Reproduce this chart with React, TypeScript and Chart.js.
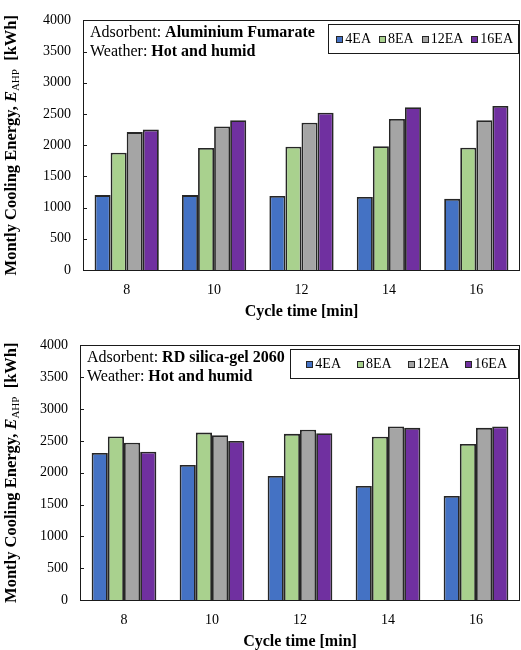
import React, { useEffect, useRef } from "react";
import { Chart, registerables } from "chart.js";

Chart.register(...registerables);

// ---------- data ----------
const categories = ["8", "10", "12", "14", "16"];
const seriesNames = ["4EA", "8EA", "12EA", "16EA"];
const yTickValues = [0, 500, 1000, 1500, 2000, 2500, 3000, 3500, 4000];

// Aluminium Fumarate, hot and humid
const alFum4EA = [1200, 1200, 1185, 1170, 1140];
const alFum8EA = [1880, 1955, 1975, 1985, 1960];
const alFum12EA = [2210, 2300, 2360, 2420, 2400];
const alFum16EA = [2250, 2400, 2520, 2610, 2630];

// RD silica-gel 2060, hot and humid
const silica4EA = [2310, 2120, 1950, 1790, 1635];
const silica8EA = [2570, 2630, 2610, 2565, 2450];
const silica12EA = [2470, 2590, 2675, 2725, 2705];
const silica16EA = [2330, 2500, 2620, 2705, 2725];

const FONT = "'Liberation Serif', 'Times New Roman', serif";
const COLORS = ["#4472C4", "#A9D18E", "#A5A5A5", "#7030A0"];
const EDGE = "#262626";

type PanelCfg = {
  top: number;
  padTop: number;
  yWidth: number;
  xHeight: number;
  adsorbent: string;
  values: number[][];
  legend: { padL: number; padR: number; gap: number };
};

function makePlugin(cfg: PanelCfg) {
  return {
    id: "decor",
    afterDraw(chart: any) {
      const ctx = chart.ctx as CanvasRenderingContext2D;
      const a = chart.chartArea;
      const yScale = chart.scales.y;
      ctx.save();
      // plot border
      ctx.strokeStyle = "#1a1a1a";
      ctx.lineWidth = 1;
      ctx.strokeRect(Math.round(a.left) + 0.5, Math.round(a.top) + 0.5, Math.round(a.right - a.left) - 1, Math.round(a.bottom - a.top));
      // inward ticks
      ctx.beginPath();
      yTickValues.forEach((v) => {
        const y = Math.round(yScale.getPixelForValue(v)) + 0.5;
        ctx.moveTo(a.left, y);
        ctx.lineTo(a.left + 4, y);
      });
      ctx.stroke();

      // annotation
      ctx.fillStyle = "#000";
      ctx.textBaseline = "middle";
      ctx.textAlign = "left";
      const ax = a.left + 7;
      const drawPair = (label: string, value: string, y: number) => {
        ctx.font = `16px ${FONT}`;
        ctx.fillText(label, ax, y);
        const w = ctx.measureText(label).width;
        ctx.font = `bold 16px ${FONT}`;
        ctx.fillText(value, ax + w, y);
      };
      drawPair("Adsorbent: ", cfg.adsorbent, a.top + 12);
      drawPair("Weather: ", "Hot and humid", a.top + 31);

      // legend
      ctx.font = `14px ${FONT}`;
      const sq = 7;
      const textGap = 2;
      const widths = seriesNames.map((n) => ctx.measureText(n).width);
      let inner = 0;
      widths.forEach((w, i) => {
        inner += sq + textGap + w + (i < widths.length - 1 ? cfg.legend.gap : 0);
      });
      const boxW = cfg.legend.padL + inner + cfg.legend.padR;
      const boxR = a.right - 2;
      const boxL = boxR - boxW;
      const boxT = a.top + 4;
      const boxH = 29;
      ctx.fillStyle = "#fff";
      ctx.fillRect(boxL, boxT, boxW, boxH);
      ctx.strokeStyle = "#1a1a1a";
      ctx.strokeRect(Math.round(boxL) + 0.5, Math.round(boxT) + 0.5, Math.round(boxW), boxH);
      let x = boxL + cfg.legend.padL;
      const cy = boxT + boxH / 2 + 0.5;
      seriesNames.forEach((n, i) => {
        ctx.fillStyle = COLORS[i];
        ctx.fillRect(Math.round(x), Math.round(cy - sq / 2), sq, sq);
        ctx.strokeStyle = EDGE;
        ctx.strokeRect(Math.round(x) + 0.5, Math.round(cy - sq / 2) + 0.5, sq - 1, sq - 1);
        x += sq + textGap;
        ctx.fillStyle = "#000";
        ctx.fillText(n, x, cy);
        x += widths[i] + cfg.legend.gap;
      });

      // x title
      ctx.font = `bold 16px ${FONT}`;
      ctx.textAlign = "center";
      ctx.fillText("Cycle time [min]", (a.left + a.right) / 2, a.bottom + 42);

      // y title with subscript
      const cyT = (a.top + a.bottom) / 2;
      ctx.translate(12, cyT);
      ctx.rotate(-Math.PI / 2);
      const segs = [
        { t: "Montly Cooling Energy, ", f: `bold 16.5px ${FONT}`, dy: 0 },
        { t: "E", f: `italic bold 16.5px ${FONT}`, dy: 0 },
        { t: "AHP", f: `11px ${FONT}`, dy: 4 },
        { t: "  [kWh]", f: `bold 16.5px ${FONT}`, dy: 0 },
      ];
      let total = 0;
      segs.forEach((s) => {
        ctx.font = s.f;
        total += ctx.measureText(s.t).width;
      });
      let sx = -total / 2;
      ctx.textAlign = "left";
      segs.forEach((s) => {
        ctx.font = s.f;
        ctx.fillText(s.t, sx, s.dy);
        sx += ctx.measureText(s.t).width;
      });
      ctx.restore();
    },
  };
}

function Panel({ cfg }: { cfg: PanelCfg }) {
  const ref = useRef<HTMLCanvasElement>(null);
  useEffect(() => {
    const chart = new Chart(ref.current!, {
      type: "bar",
      data: {
        labels: categories,
        datasets: seriesNames.map((name, i) => ({
          label: name,
          data: cfg.values[i],
          backgroundColor: COLORS[i],
          borderColor: EDGE,
          borderWidth: 1.8,
          categoryPercentage: 0.735,
          barPercentage: 1,
        })),
      },
      options: {
        responsive: false,
        devicePixelRatio: 1,
        animation: false,
        layout: { padding: { top: cfg.padTop, right: 1, left: 0, bottom: 0 } },
        plugins: { legend: { display: false }, tooltip: { enabled: false } },
        scales: {
          x: {
            grid: { display: false },
            border: { display: false },
            ticks: { color: "#000", font: { family: FONT, size: 14 }, padding: 4 },
            afterFit: (s: any) => {
              s.height = cfg.xHeight;
            },
          },
          y: {
            min: 0,
            max: 4000,
            grid: { display: false, drawTicks: false },
            border: { display: false },
            ticks: {
              stepSize: 500,
              color: "#000",
              font: { family: FONT, size: 14 },
              padding: 12,
              callback: (v: any) => String(v),
            },
            afterFit: (s: any) => {
              s.width = cfg.yWidth;
            },
          },
        },
      },
      plugins: [makePlugin(cfg)],
    } as any);
    return () => chart.destroy();
  }, []);
  return (
    <canvas
      ref={ref}
      width={521}
      height={325}
      style={{ position: "absolute", left: 0, top: cfg.top, width: 521, height: 325 }}
    />
  );
}

const topCfg: PanelCfg = {
  top: 0,
  padTop: 13,
  yWidth: 83,
  xHeight: 55,
  adsorbent: "Aluminium Fumarate",
  values: [alFum4EA, alFum8EA, alFum12EA, alFum16EA],
  legend: { padL: 8, padR: 5, gap: 8 },
};

const bottomCfg: PanelCfg = {
  top: 325,
  padTop: 17,
  yWidth: 80,
  xHeight: 50,
  adsorbent: "RD silica-gel 2060",
  values: [silica4EA, silica8EA, silica12EA, silica16EA],
  legend: { padL: 16, padR: 11, gap: 16 },
};

export default function App() {
  return (
    <div style={{ position: "absolute", left: 0, top: 0, width: 521, height: 650, background: "#fff" }}>
      <Panel cfg={topCfg} />
      <Panel cfg={bottomCfg} />
    </div>
  );
}
